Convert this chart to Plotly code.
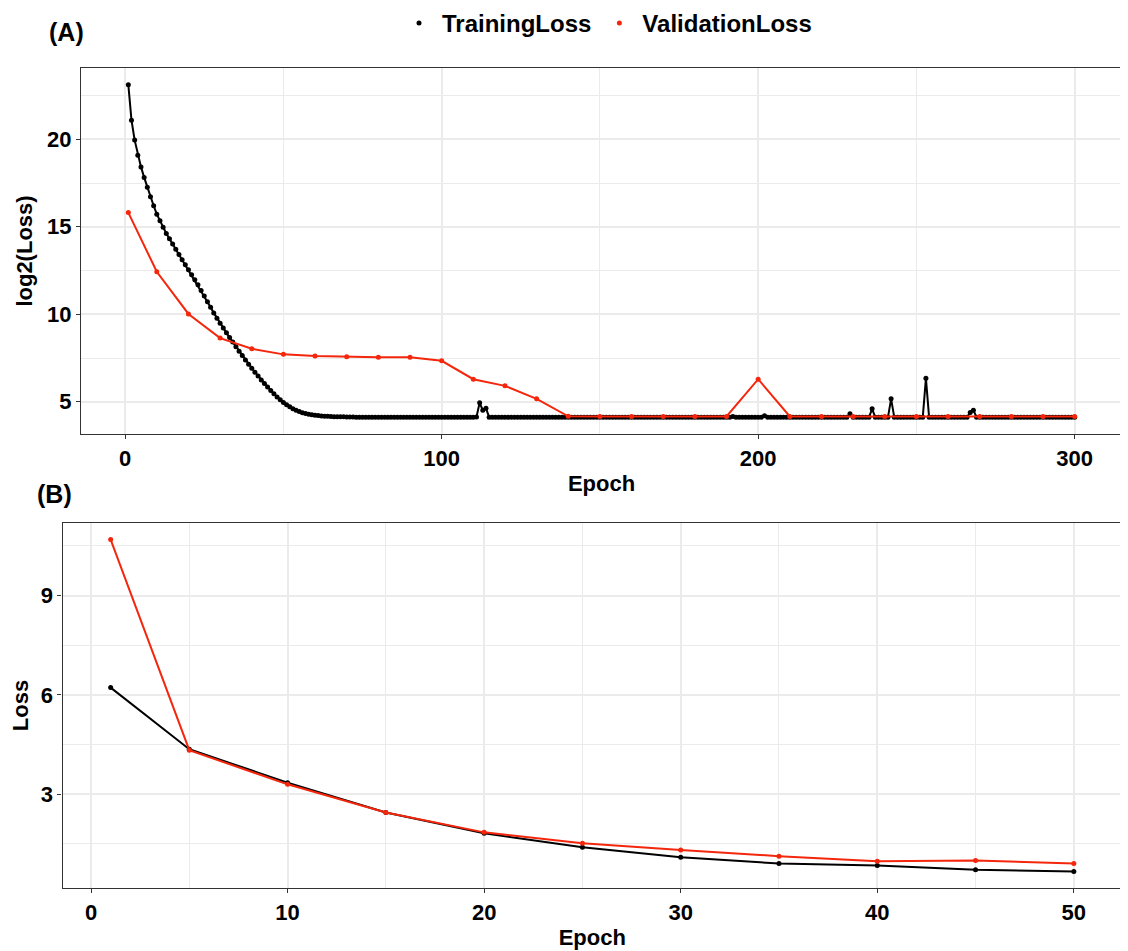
import plotly.graph_objects as go

# ---------------- Data ----------------
epoch_a = list(range(1, 301))
train_a = [
    23.12, 21.09, 19.95, 19.09, 18.42, 17.82, 17.25, 16.71, 16.20, 15.72,
    15.34, 14.97, 14.62, 14.31, 14.01, 13.71, 13.41, 13.12, 12.83, 12.54,
    12.26, 11.97, 11.68, 11.36, 11.04, 10.72, 10.40, 10.08, 9.78, 9.49,
    9.21, 8.94, 8.67, 8.41, 8.15, 7.89, 7.64, 7.39, 7.15, 6.92,
    6.69, 6.47, 6.25, 6.04, 5.84, 5.65, 5.46, 5.28, 5.11, 4.96,
    4.83, 4.71, 4.60, 4.51, 4.44, 4.38, 4.33, 4.29, 4.26, 4.23,
    4.21, 4.19, 4.18, 4.17, 4.16, 4.15, 4.15, 4.14, 4.14, 4.13,
    4.13, 4.13, 4.12, 4.12, 4.12, 4.12, 4.12, 4.12, 4.12, 4.12,
    4.12, 4.11, 4.12, 4.11, 4.11, 4.12, 4.11, 4.11, 4.11, 4.11,
    4.11, 4.11, 4.11, 4.11, 4.11, 4.11, 4.11, 4.11, 4.11, 4.11,
    4.11, 4.11, 4.11, 4.11, 4.11, 4.11, 4.11, 4.11, 4.11, 4.11,
    4.13, 4.94, 4.52, 4.63, 4.12, 4.11, 4.11, 4.11, 4.11, 4.11,
    4.11, 4.11, 4.11, 4.11, 4.11, 4.11, 4.11, 4.11, 4.11, 4.11,
    4.11, 4.11, 4.11, 4.11, 4.11, 4.11, 4.11, 4.11, 4.11, 4.11,
    4.11, 4.11, 4.11, 4.11, 4.11, 4.11, 4.11, 4.11, 4.11, 4.11,
    4.11, 4.11, 4.11, 4.11, 4.11, 4.11, 4.11, 4.11, 4.11, 4.11,
    4.11, 4.11, 4.11, 4.11, 4.11, 4.11, 4.11, 4.11, 4.11, 4.11,
    4.11, 4.11, 4.11, 4.11, 4.11, 4.11, 4.11, 4.11, 4.11, 4.11,
    4.11, 4.11, 4.11, 4.11, 4.11, 4.11, 4.11, 4.11, 4.11, 4.11,
    4.11, 4.16, 4.12, 4.11, 4.11, 4.11, 4.11, 4.11, 4.11, 4.11,
    4.12, 4.20, 4.12, 4.11, 4.11, 4.11, 4.11, 4.11, 4.11, 4.11,
    4.11, 4.11, 4.11, 4.11, 4.11, 4.11, 4.11, 4.11, 4.11, 4.11,
    4.11, 4.11, 4.11, 4.11, 4.11, 4.11, 4.11, 4.11, 4.31, 4.11,
    4.11, 4.11, 4.11, 4.11, 4.11, 4.60, 4.11, 4.11, 4.11, 4.11,
    4.11, 5.17, 4.11, 4.11, 4.11, 4.11, 4.11, 4.11, 4.11, 4.11,
    4.11, 4.11, 6.34, 4.11, 4.11, 4.11, 4.11, 4.11, 4.11, 4.11,
    4.11, 4.11, 4.11, 4.11, 4.11, 4.11, 4.39, 4.52, 4.11, 4.11,
    4.11, 4.11, 4.11, 4.11, 4.11, 4.11, 4.11, 4.11, 4.11, 4.11,
    4.11, 4.11, 4.11, 4.11, 4.11, 4.11, 4.11, 4.11, 4.11, 4.11,
    4.11, 4.11, 4.11, 4.11, 4.11, 4.11, 4.11, 4.11, 4.11, 4.11,
]
val_epoch_a = [1, 10, 20, 30, 40, 50, 60, 70, 80, 90, 100,
               110, 120, 130, 140, 150, 160, 170, 180, 190, 200,
               210, 220, 230, 240, 250, 260, 270, 280, 290, 300]
val_a = [15.81, 12.43, 10.02, 8.64, 8.03, 7.71, 7.61, 7.57, 7.55, 7.55, 7.34,
         6.29, 5.91, 5.17, 4.17, 4.16, 4.16, 4.16, 4.16, 4.16, 6.29,
         4.16, 4.16, 4.16, 4.16, 4.16, 4.16, 4.16, 4.16, 4.16, 4.16]

epoch_b = [1, 5, 10, 15, 20, 25, 30, 35, 40, 45, 50]
train_b = [6.22, 4.36, 3.35, 2.45, 1.82, 1.40, 1.10, 0.91, 0.85, 0.72, 0.67]
val_b = [10.69, 4.33, 3.30, 2.45, 1.85, 1.52, 1.32, 1.13, 0.98, 1.00, 0.91]

series_names = ["TrainingLoss", "ValidationLoss"]
panel_labels = ["(A)", "(B)"]

# ---------------- Styling ----------------
# The page body has an 8px margin, so the figure is drawn 8px in from the
# window's top-left corner; layout positions below are given in window pixels.
OFF = 8
W, H = 1128 - OFF, 951 - OFF
BLACK = "#000000"
RED = "#F4260C"
FONT = "Liberation Sans, Arial, sans-serif"
GRID = "#EBEBEB"
BORDER = "#333333"


def px_x(p):
    return (p - OFF) / W


def px_y(p):
    return 1 - (p - OFF) / H


fig = go.Figure()

# Panel A
fig.add_trace(go.Scatter(x=epoch_a, y=train_a, mode="lines+markers",
                         line=dict(color=BLACK, width=2),
                         marker=dict(color=BLACK, size=5),
                         xaxis="x", yaxis="y", showlegend=False,
                         name=series_names[0]))
fig.add_trace(go.Scatter(x=val_epoch_a, y=val_a, mode="lines+markers",
                         line=dict(color=RED, width=2),
                         marker=dict(color=RED, size=5),
                         xaxis="x", yaxis="y", showlegend=False,
                         name=series_names[1]))
# Panel B
fig.add_trace(go.Scatter(x=epoch_b, y=train_b, mode="lines+markers",
                         line=dict(color=BLACK, width=2),
                         marker=dict(color=BLACK, size=5),
                         xaxis="x2", yaxis="y2", showlegend=False,
                         name=series_names[0]))
fig.add_trace(go.Scatter(x=epoch_b, y=val_b, mode="lines+markers",
                         line=dict(color=RED, width=2),
                         marker=dict(color=RED, size=5),
                         xaxis="x2", yaxis="y2", showlegend=False,
                         name=series_names[1]))
# Legend-only entries (dot keys)
for nm, col in zip(series_names, [BLACK, RED]):
    fig.add_trace(go.Scatter(x=[None], y=[None], mode="markers",
                             marker=dict(color=col, size=5),
                             name=nm, showlegend=True,
                             xaxis="x", yaxis="y"))

tickfont = dict(family=FONT, size=22, color="black", weight="bold")
titlefont = dict(family=FONT, size=22, color="black", weight="bold")


def axis_common():
    return dict(showline=True, mirror=True, linecolor=BORDER, linewidth=1.2,
                ticks="outside", ticklen=4, tickwidth=1.2, tickcolor=BORDER,
                showgrid=True, gridcolor=GRID, gridwidth=1.6,
                zeroline=False, tickfont=tickfont, automargin=False)


fig.update_layout(
    width=W, height=H,
    margin=dict(l=0, r=0, t=0, b=0, autoexpand=False),
    paper_bgcolor="white", plot_bgcolor="white",
    font=dict(family=FONT, color="black"),
    xaxis=dict(domain=[px_x(81), px_x(1122)], anchor="y",
               range=[-13.95, 314.95], tick0=0, dtick=100,
               minor=dict(tick0=0, dtick=50, showgrid=True, gridcolor=GRID,
                          gridwidth=0.8, ticks=""),
               title=dict(text="Epoch", font=titlefont, standoff=6),
               **axis_common()),
    yaxis=dict(domain=[px_y(434), px_y(68)], anchor="x",
               range=[3.16, 24.07], tick0=0, dtick=5,
               minor=dict(tick0=0, dtick=2.5, showgrid=True, gridcolor=GRID,
                          gridwidth=0.8, ticks=""),
               title=dict(text="log2(Loss)", font=titlefont, standoff=8),
               **axis_common()),
    xaxis2=dict(domain=[px_x(62.5), px_x(1122)], anchor="y2",
                range=[-1.45, 52.45], tick0=0, dtick=10,
                minor=dict(tick0=0, dtick=5, showgrid=True, gridcolor=GRID,
                           gridwidth=0.8, ticks=""),
                title=dict(text="Epoch", font=titlefont, standoff=6),
                **axis_common()),
    yaxis2=dict(domain=[px_y(888), px_y(523)], anchor="x2",
                range=[0.17, 11.19], tick0=0, dtick=3,
                minor=dict(tick0=0, dtick=1.5, showgrid=True, gridcolor=GRID,
                           gridwidth=0.8, ticks=""),
                title=dict(text="Loss", font=titlefont, standoff=8),
                **axis_common()),
    legend=dict(orientation="h", x=px_x(396), y=1 + 7 / H, xanchor="left",
                yanchor="top", font=dict(family=FONT, size=24, color="black",
                                         weight="bold"),
                itemwidth=36, bgcolor="rgba(0,0,0,0)", traceorder="normal"),
    annotations=[
        dict(text=panel_labels[0], x=px_x(66), y=px_y(32), xref="paper",
             yref="paper", showarrow=False, xanchor="center", yanchor="middle",
             font=dict(family=FONT, size=25, color="black", weight="bold")),
        dict(text=panel_labels[1], x=px_x(54), y=px_y(494), xref="paper",
             yref="paper", showarrow=False, xanchor="center", yanchor="middle",
             font=dict(family=FONT, size=25, color="black", weight="bold")),
    ],
)

fig.write_html("out.html")
